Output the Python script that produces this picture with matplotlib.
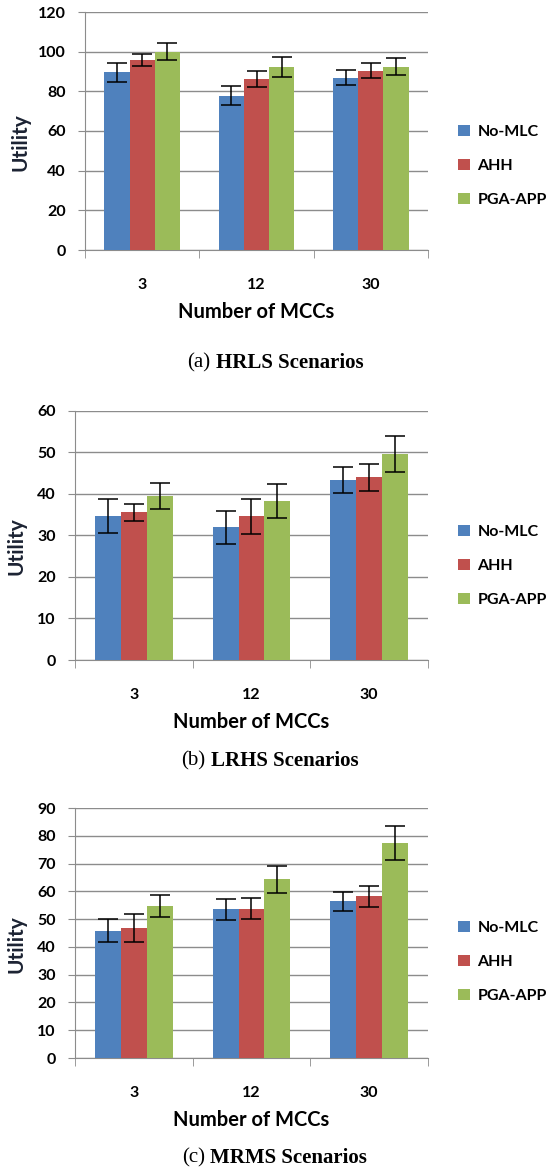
import matplotlib.pyplot as plt
import numpy as np

# donnees
mccs = ['3', '12', '30']
methods = ['No-MLC', 'AHH', 'PGA-APP']
colors = ['#4F81BD', '#C0504D', '#9BBB59']

hrls_mean = [[89.5, 77.8, 86.9], [95.8, 86.2, 90.5], [100.0, 92.4, 92.4]]
hrls_err = [[5.0, 4.8, 3.7], [3.0, 4.0, 4.0], [4.3, 5.0, 4.2]]

lrhs_mean = [[34.6, 31.9, 43.3], [35.5, 34.6, 43.9], [39.4, 38.3, 49.5]]
lrhs_err = [[4.0, 4.0, 3.1], [2.0, 4.2, 3.3], [3.2, 4.1, 4.4]]

mrms_mean = [[45.9, 53.5, 56.5], [46.9, 53.7, 58.2], [54.7, 64.3, 77.4]]
mrms_err = [[4.0, 3.8, 3.4], [5.0, 3.8, 3.9], [3.9, 4.8, 6.2]]

panels = [
    ('(a)', 'HRLS Scenarios', hrls_mean, hrls_err, 120, 20),
    ('(b)', 'LRHS Scenarios', lrhs_mean, lrhs_err, 60, 10),
    ('(c)', 'MRMS Scenarios', mrms_mean, mrms_err, 90, 10),
]

# positions des axes en pixels (gauche, haut, droite, bas)
W, H = 547, 1174
boxes = [(85, 12, 428, 250), (75, 410.5, 428, 660), (75, 808, 428, 1058)]
legend_y = [166, 566, 962]
caption_y = [363, 761, 1158]
caption_x = [(210, 216), (205, 211), (205, 210)]
ylabel_x = [20, 16, 16]

plt.rcParams['font.family'] = ['Lato', 'DejaVu Sans']
fig = plt.figure(figsize=(W / 100, H / 100), dpi=100)
grid_col = '#8C8C8C'
bw = 0.22
x = np.arange(len(mccs))

for i, (tag, name, mean, err, ymax, step) in enumerate(panels):
    l, t, r, b = boxes[i]
    ax = fig.add_axes([l / W, 1 - b / H, (r - l) / W, (b - t) / H])
    for k in range(3):
        ax.bar(x + (k - 1) * bw, mean[k], bw, yerr=err[k], color=colors[k],
               label=methods[k], capsize=7,
               error_kw=dict(ecolor='black', elinewidth=1.1, capthick=1.1), zorder=3)
    ax.set_xlim(-0.5, 2.5)
    ax.set_ylim(0, ymax)
    ax.set_yticks(np.arange(0, ymax + 1, step))
    ax.yaxis.grid(True, color=grid_col, linewidth=1, zorder=0)
    ax.set_xticks(x)
    ax.set_xticklabels(mccs)
    ax.set_xticks([-0.5, 0.5, 1.5, 2.5], minor=True)
    ax.tick_params(axis='x', which='major', length=0, pad=20, labelsize=11.5)
    ax.tick_params(axis='x', which='minor', length=6, color=grid_col, direction='out')
    ax.tick_params(axis='y', length=5, color=grid_col, pad=9, labelsize=11.5)
    for lab in ax.get_xticklabels() + ax.get_yticklabels():
        lab.set_fontweight('bold')
    for s in ['top', 'right']:
        ax.spines[s].set_visible(False)
    ax.spines['left'].set_color(grid_col)
    ax.spines['bottom'].set_color(grid_col)
    ax.set_xlabel('Number of MCCs', fontsize=14.5, fontweight='bold', labelpad=7)
    fig.text(ylabel_x[i] / W, 1 - ((t + b) / 2 + 11) / H, 'Utility', rotation=90,
             fontsize=15, fontweight='bold', color='#1c2333', ha='center', va='center')
    ax.legend(loc='center left', bbox_to_anchor=(452 / W, 1 - legend_y[i] / H),
              bbox_transform=fig.transFigure, frameon=False,
              prop=dict(weight='bold', size=11.5), handlelength=0.7, handleheight=0.7,
              handletextpad=0.5, labelspacing=1.25, borderaxespad=0)
    cx1, cx2 = caption_x[i]
    fig.text(cx1 / W, 1 - caption_y[i] / H, tag, ha='right', va='center',
             fontsize=15, family='Liberation Serif')
    fig.text(cx2 / W, 1 - caption_y[i] / H, name, ha='left', va='center',
             fontsize=15, fontweight='bold', family='Liberation Serif')

fig.savefig('out.png', dpi=100)
